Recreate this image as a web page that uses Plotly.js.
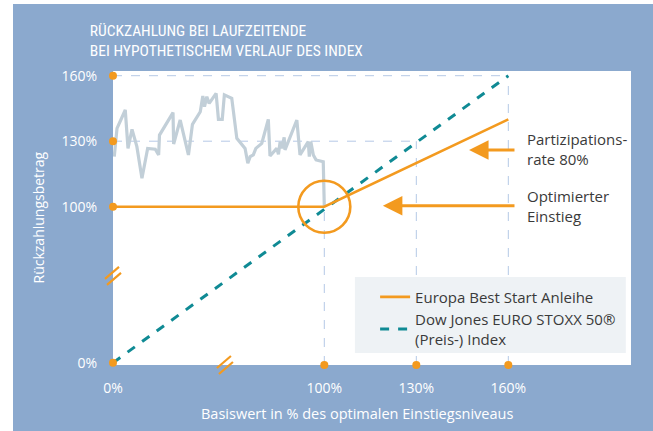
<!DOCTYPE html>
<html><head><meta charset="utf-8">
<script src="https://cdn.plot.ly/plotly-3.0.1.min.js"></script>
<style>
html,body{margin:0;padding:0;background:#ffffff;}
#chart{position:absolute;left:13px;top:4px;width:640px;height:427px;}
</style></head>
<body><div id="chart"></div>
<script>
// ---- data (real percentages) ----
const indexX = [0.6,1.9,5.8,7.1,9.0,11.3,13.7,16.4,20.0,21.6,22.0,28.4,28.7,31.8,35.7,37.6,41.3,42.5,43.3,44.4,45.5,48.8,49.9,51.7,52.7,56.2,58.6,62.5,63.8,64.9,66.4,67.6,70.4,73.5,74.3,77.5,78.3,79.1,79.9,81.0,81.4,87.0,88.5,90.9,92.4,92.9,93.6,94.8,96.1,99.5,100];
const indexY = [122.9,135.9,144.3,126.7,135.4,127.5,113,126.7,126.3,123.7,132.8,143.1,128.7,139.7,123.7,137.7,143.5,150.7,145.8,150.4,147.3,151.9,140,140,151.2,149.6,131.3,126.7,119.9,122.9,123.7,126.7,129,140,123.2,126.7,124,129.8,126.7,131.8,126,139.7,123.7,127.5,129.8,122.9,129.8,123.7,121.4,120.6,100];
const bondX = [0,100,160];
const bondY = [100,100,140];
const stoxxX = [0,160];
const stoxxY = [0,160];
const xTicks = [0,100,130,160];
const xTickLabels = ['0%','100%','130%','160%'];
const yTicks = [0,100,130,160];
const yTickLabels = ['0%','100%','130%','160%'];
const seriesNames = ['Europa Best Start Anleihe','Dow Jones EURO STOXX 50®<br>(Preis-) Index'];

// ---- broken-axis scale (values below 100% are compressed) ----
const xComp = 0.689, yComp = 0.7146;
const xd = v => v >= 100 ? v : 100 - (100 - v) * xComp;
const yd = v => v >= 100 ? v : 100 - (100 - v) * yComp;
const xRange = [31.1, 200];
const yRange = [27.5, 162.15];
const xBreakAt = 67.6, yBreakAt = 68.3;
const xPaper = v => (v - xRange[0]) / (xRange[1] - xRange[0]);
const yPaper = v => (v - yRange[0]) / (yRange[1] - yRange[0]);

const ORANGE = '#f39a1f', TEAL = '#0f8a94', GRAYLINE = '#c2cfd8', BLUE = '#8ba9ce', GRID = '#b5c9e6', TXT = '#3a3a3a';
const FONT = 'Open Sans, Noto Sans, sans-serif';
const NARROW = 'Roboto Condensed, Roboto, sans-serif';

const traces = [
  {x: indexX.map(xd), y: indexY.map(yd), mode:'lines', line:{color:GRAYLINE, width:3.2}, showlegend:false, hoverinfo:'skip'},
  {x: stoxxX.map(xd), y: stoxxY.map(yd), mode:'lines', name: seriesNames[1], line:{color:TEAL, width:3, dash:'dash'}, cliponaxis:false, legendrank:2},
  {x: bondX.map(xd), y: bondY.map(yd), mode:'lines', name: seriesNames[0], line:{color:ORANGE, width:2.6}, legendrank:1},
  {x: yTicks.map(() => xRange[0]), y: yTicks.map(yd), mode:'markers', marker:{color:ORANGE, size:8}, showlegend:false, cliponaxis:false, hoverinfo:'skip'},
  {x: xTicks.slice(1).map(xd), y: xTicks.slice(1).map(() => yRange[0]), mode:'markers', marker:{color:ORANGE, size:8}, showlegend:false, cliponaxis:false, hoverinfo:'skip'}
];

const shapes = [];
[160,130].forEach(v => shapes.push({type:'line', xref:'x', yref:'y', x0:xd(0), x1:xd(v), y0:yd(v), y1:yd(v), line:{color:GRID, width:1, dash:'dash'}, layer:'below'}));
[100,130,160].forEach(v => shapes.push({type:'line', xref:'x', yref:'y', x0:xd(v), x1:xd(v), y0:yRange[0], y1:yd(v), line:{color:GRID, width:1, dash:'dash'}, layer:'below'}));
shapes.push({type:'rect', xref:'paper', yref:'paper', x0:0.467, x1:0.990, y0:0.041, y1:0.299, fillcolor:'#eef2f5', line:{width:0}, layer:'above'});
shapes.push({type:'circle', xref:'x', yref:'y', xsizemode:'pixel', ysizemode:'pixel', xanchor:xd(100), yanchor:yd(100), x0:-26, x1:26, y0:-26, y1:26, line:{color:ORANGE, width:2.6}});
// axis-break marks (two short parallel strokes), paper-referenced so they are not clipped
function breakMark(xa, ya) {
  [[-8,-3,6,9],[-6,-9,8,3]].forEach(s => shapes.push({type:'line', xref:'paper', yref:'paper', xsizemode:'pixel', ysizemode:'pixel', xanchor:xa, yanchor:ya, x0:s[0], y0:s[1], x1:s[2], y1:s[3], line:{color:ORANGE, width:2.2}}));
}
breakMark(0, yPaper(yBreakAt));
breakMark(xPaper(xBreakAt), 0);

const annotations = [
  {xref:'x', yref:'y', x:147.2, y:126, axref:'x', ayref:'y', ax:162.5, ay:126, text:'', showarrow:true, arrowhead:2, arrowsize:1.3, arrowwidth:3, arrowcolor:ORANGE},
  {xref:'x', yref:'y', x:119.1, y:100.4, axref:'x', ayref:'y', ax:162.5, ay:100.4, text:'', showarrow:true, arrowhead:2, arrowsize:1.3, arrowwidth:3, arrowcolor:ORANGE},
  {xref:'x', yref:'y', x:165.4, y:126.4, text:'Partizipations-<br>rate 80%', showarrow:false, xanchor:'left', yanchor:'middle', align:'left', font:{family:FONT, size:15, color:TXT}},
  {xref:'x', yref:'y', x:165.4, y:100.5, text:'Optimierter<br>Einstieg', showarrow:false, xanchor:'left', yanchor:'middle', align:'left', font:{family:FONT, size:15, color:TXT}},
  {xref:'paper', yref:'paper', x:0.472, y:0, yshift:-48, text:'Basiswert in % des optimalen Einstiegsniveaus', showarrow:false, xanchor:'center', yanchor:'middle', font:{family:FONT, size:14.5, color:'#ffffff'}},
  {xref:'paper', yref:'paper', x:0, xshift:-75.5, y:0.5, text:'Rückzahlungsbetrag', textangle:-90, showarrow:false, xanchor:'center', yanchor:'middle', font:{family:FONT, size:14, color:'#ffffff'}}
];

const layout = {
  width:640, height:427,
  paper_bgcolor:BLUE, plot_bgcolor:'#ffffff',
  margin:{l:100, r:22, t:67, b:66},
  title:{text:'RÜCKZAHLUNG BEI LAUFZEITENDE<br>BEI HYPOTHETISCHEM VERLAUF DES INDEX', xref:'container', yref:'container', x:0.12, xanchor:'left', y:0.926, yanchor:'top', font:{family:NARROW, size:15.5, color:'#ffffff'}},
  xaxis:{range:xRange, showgrid:false, zeroline:false, showline:false, tickvals:xTicks.map(xd), ticktext:xTickLabels, ticks:'outside', ticklen:10, tickcolor:'rgba(0,0,0,0)', tickfont:{family:FONT, size:14, color:'#ffffff'}, fixedrange:true},
  yaxis:{range:yRange, showgrid:false, zeroline:false, showline:false, tickvals:yTicks.map(yd), ticktext:yTickLabels, ticks:'outside', ticklen:12, tickcolor:'rgba(0,0,0,0)', tickfont:{family:FONT, size:14, color:'#ffffff'}, fixedrange:true},
  legend:{x:0.506, y:0.287, xanchor:'left', yanchor:'top', bgcolor:'rgba(0,0,0,0)', font:{family:FONT, size:15, color:TXT}, tracegroupgap:4, itemwidth:30},
  shapes:shapes, annotations:annotations, showlegend:true
};
Plotly.newPlot('chart', traces, layout, {displayModeBar:false, staticPlot:true});
</script></body></html>
